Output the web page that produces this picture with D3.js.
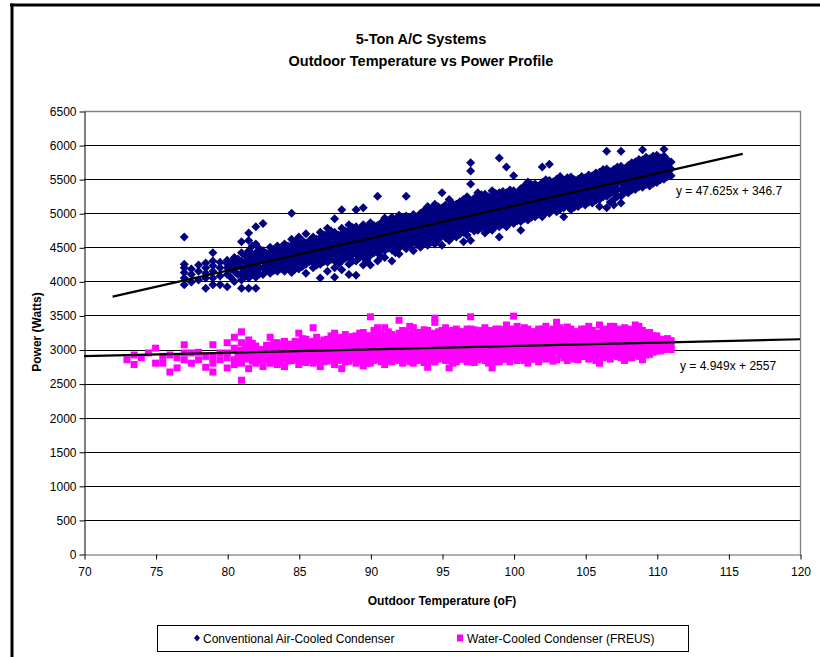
<!DOCTYPE html>
<html>
<head>
<meta charset="utf-8">
<script src="https://cdn.jsdelivr.net/npm/d3@7"></script>
<style>
  body { margin: 0; background: #fff; }
  svg { display: block; font-family: "Liberation Sans", Arial, sans-serif; }
</style>
</head>
<body>
<svg id="chart" width="820" height="657"></svg>
<script>
// Values: [temperature (oF), [watts, ...]]
const airCooled = [
  [77.0, [3950, 4050, 4130, 4200, 4250, 4650]],
  [77.5, [3990, 4100, 4180]],
  [78.0, [4020, 4150, 4240]],
  [78.5, [3900, 4050, 4120, 4200, 4270]],
  [79.0, [3950, 4050, 4150, 4230, 4300, 4420]],
  [79.5, [3950, 4080, 4200, 4280]],
  [80.0, [3920, 4100, 4200, 4260, 4310]],
  [80.5, [4000, 4150, 4250, 4300, 4350]],
  [81.0, [3900, 4020, 4120, 4200, 4300, 4420, 4580]],
  [81.5, [3900, 4050, 4150, 4250, 4350, 4450, 4600, 4710]],
  [82.0, [3900, 4060, 4150, 4250, 4330, 4420, 4550, 4800]],
  [82.5, [4100, 4200, 4300, 4380, 4450, 4850]],
  [83.0, [4120, 4200, 4280, 4350, 4420, 4500]],
  [83.5, [4150, 4230, 4300, 4380, 4450, 4520]],
  [84.0, [4150, 4250, 4320, 4400, 4480, 4550]],
  [84.5, [4130, 4220, 4300, 4380, 4450, 4530, 4620, 5000]],
  [85.0, [4180, 4260, 4330, 4400, 4480, 4560, 4650]],
  [85.5, [4120, 4250, 4330, 4400, 4480, 4560, 4700]],
  [86.0, [4200, 4280, 4350, 4420, 4500, 4580, 4650]],
  [86.5, [4050, 4250, 4320, 4400, 4480, 4560, 4640, 4720]],
  [87.0, [4150, 4280, 4360, 4440, 4520, 4600, 4700, 4780]],
  [87.5, [4060, 4200, 4300, 4400, 4480, 4560, 4640, 4720, 4920]],
  [88.0, [4170, 4300, 4380, 4460, 4540, 4620, 4700, 4780, 5050]],
  [88.5, [4100, 4250, 4350, 4430, 4510, 4590, 4670, 4750, 4830]],
  [89.0, [4090, 4300, 4400, 4480, 4560, 4640, 4720, 4800, 5050]],
  [89.5, [4240, 4350, 4430, 4510, 4590, 4670, 4750, 4830, 5080]],
  [90.0, [4240, 4380, 4460, 4540, 4620, 4700, 4780, 4860]],
  [90.5, [4300, 4420, 4500, 4580, 4660, 4740, 4820, 5250]],
  [91.0, [4350, 4450, 4530, 4610, 4690, 4770, 4850, 4930]],
  [91.5, [4300, 4460, 4540, 4620, 4700, 4780, 4860, 4940]],
  [92.0, [4400, 4490, 4570, 4650, 4730, 4810, 4890, 4970]],
  [92.5, [4480, 4560, 4640, 4720, 4800, 4880, 4960, 5250]],
  [93.0, [4450, 4580, 4660, 4740, 4820, 4900, 4980]],
  [93.5, [4500, 4600, 4680, 4760, 4840, 4920, 5000]],
  [94.0, [4530, 4620, 4700, 4780, 4860, 4940, 5020, 5100]],
  [94.5, [4550, 4650, 4730, 4810, 4890, 4970, 5050, 5130]],
  [95.0, [4530, 4680, 4760, 4840, 4920, 5000, 5080, 5300]],
  [95.5, [4600, 4700, 4780, 4860, 4940, 5020, 5100, 5200]],
  [96.0, [4650, 4730, 4810, 4890, 4970, 5050, 5130]],
  [96.5, [4580, 4720, 4800, 4880, 4960, 5040, 5120, 5200]],
  [97.0, [4600, 4780, 4860, 4940, 5020, 5100, 5180, 5430, 5620, 5740]],
  [97.5, [4750, 4830, 4910, 4990, 5070, 5150, 5230, 5300]],
  [98.0, [4710, 4800, 4880, 4960, 5040, 5120, 5200, 5280]],
  [98.5, [4750, 4850, 4930, 5010, 5090, 5170, 5250, 5330]],
  [99.0, [4650, 4800, 4880, 4960, 5040, 5120, 5200, 5300, 5810]],
  [99.5, [4800, 4900, 4980, 5060, 5140, 5220, 5300, 5680]],
  [100.0, [4850, 4930, 5010, 5090, 5170, 5250, 5330, 5550]],
  [100.5, [4750, 4880, 4960, 5040, 5120, 5200, 5280, 5360]],
  [101.0, [4900, 4980, 5060, 5140, 5220, 5300, 5380, 5460]],
  [101.5, [4950, 5030, 5110, 5190, 5270, 5350, 5430]],
  [102.0, [4950, 5050, 5130, 5210, 5290, 5370, 5450, 5680]],
  [102.5, [5000, 5080, 5160, 5240, 5320, 5400, 5480, 5720]],
  [103.0, [5020, 5100, 5180, 5260, 5340, 5420, 5500]],
  [103.5, [4950, 5080, 5160, 5240, 5320, 5400, 5480]],
  [104.0, [5050, 5130, 5210, 5290, 5370, 5450, 5530]],
  [104.5, [5100, 5180, 5260, 5340, 5420, 5500]],
  [105.0, [5120, 5200, 5280, 5360, 5440, 5520]],
  [105.5, [5150, 5230, 5310, 5390, 5470, 5550]],
  [106.0, [5100, 5200, 5280, 5360, 5440, 5520, 5600]],
  [106.5, [5080, 5250, 5330, 5410, 5490, 5570, 5650, 5910]],
  [107.0, [5120, 5200, 5300, 5400, 5480, 5560, 5640]],
  [107.5, [5150, 5250, 5350, 5450, 5530, 5610, 5690, 5910]],
  [108.0, [5300, 5380, 5460, 5540, 5620, 5700]],
  [108.5, [5350, 5430, 5510, 5590, 5670, 5750]],
  [109.0, [5380, 5460, 5540, 5620, 5700, 5780, 5930]],
  [109.5, [5400, 5480, 5560, 5640, 5720, 5800]],
  [110.0, [5450, 5530, 5610, 5690, 5770, 5850]],
  [110.5, [5500, 5580, 5660, 5740, 5840, 5940]],
  [111.0, [5550, 5650, 5750]]
]

// readings in between the columns above, where the cloud is dense
const airCooledMid = [
  [80.25, [4060, 4180, 4280]],
  [80.75, [4100, 4230, 4330]],
  [81.25, [4080, 4180, 4280, 4380]],
  [81.75, [4100, 4200, 4300, 4400, 4520]],
  [82.25, [4110, 4200, 4290, 4380, 4480]],
  [82.75, [4160, 4250, 4340, 4410]],
  [83.25, [4160, 4240, 4320, 4390, 4460]],
  [83.75, [4190, 4270, 4340, 4420, 4490]],
  [84.25, [4200, 4290, 4360, 4440, 4520]],
  [84.75, [4180, 4260, 4340, 4420, 4490, 4580]],
  [85.25, [4220, 4300, 4370, 4440, 4520, 4600]],
  [85.75, [4290, 4370, 4440, 4520, 4600]],
  [86.25, [4240, 4320, 4390, 4460, 4540, 4620]],
  [86.75, [4290, 4360, 4440, 4520, 4600, 4680]],
  [87.25, [4320, 4400, 4480, 4560, 4650, 4740]],
  [87.75, [4250, 4350, 4440, 4520, 4600, 4680]],
  [88.25, [4340, 4420, 4500, 4580, 4660, 4740]],
  [88.75, [4300, 4390, 4470, 4550, 4630, 4710, 4790]],
  [89.25, [4350, 4440, 4520, 4600, 4680, 4760]],
  [89.75, [4310, 4390, 4470, 4550, 4630, 4710, 4790]],
  [90.25, [4420, 4500, 4580, 4660, 4740, 4820]],
  [90.75, [4360, 4460, 4540, 4620, 4700, 4780, 4860]],
  [91.25, [4490, 4570, 4650, 4730, 4810, 4890]],
  [91.75, [4420, 4500, 4580, 4660, 4740, 4820, 4900]],
  [92.25, [4530, 4610, 4690, 4770, 4850, 4930]],
  [92.75, [4520, 4600, 4680, 4760, 4840, 4920]],
  [93.25, [4540, 4620, 4700, 4780, 4860, 4940]],
  [93.75, [4560, 4640, 4720, 4800, 4880, 4960, 5040]],
  [94.25, [4580, 4660, 4740, 4820, 4900, 4980, 5060]],
  [94.75, [4610, 4690, 4770, 4850, 4930, 5010, 5090]],
  [95.25, [4640, 4720, 4800, 4880, 4960, 5040, 5120]],
  [95.75, [4660, 4740, 4820, 4900, 4980, 5060, 5140]],
  [96.25, [4690, 4770, 4850, 4930, 5010, 5090, 5170]],
  [96.75, [4680, 4760, 4840, 4920, 5000, 5080, 5160, 5240]],
  [97.25, [4740, 4820, 4900, 4980, 5060, 5140, 5220]],
  [97.75, [4790, 4870, 4950, 5030, 5110, 5190, 5270]],
  [98.25, [4760, 4840, 4920, 5000, 5080, 5160, 5240]],
  [98.75, [4810, 4890, 4970, 5050, 5130, 5210, 5290]],
  [99.25, [4840, 4920, 5000, 5080, 5160, 5240, 5320]],
  [99.75, [4860, 4940, 5020, 5100, 5180, 5260, 5340]],
  [100.25, [4890, 4970, 5050, 5130, 5210, 5290]],
  [100.75, [4920, 5000, 5080, 5160, 5240, 5320, 5400]],
  [101.25, [4940, 5020, 5100, 5180, 5260, 5340, 5420]],
  [101.75, [4990, 5070, 5150, 5230, 5310, 5390]],
  [102.25, [5010, 5090, 5170, 5250, 5330, 5410, 5490]],
  [102.75, [5060, 5140, 5220, 5300, 5380, 5460]],
  [103.25, [5060, 5140, 5220, 5300, 5380, 5460, 5540]],
  [103.75, [5120, 5200, 5280, 5360, 5440, 5520]],
  [104.25, [5090, 5170, 5250, 5330, 5410, 5490]],
  [104.75, [5140, 5220, 5300, 5380, 5460, 5540]],
  [105.25, [5160, 5240, 5320, 5400, 5480, 5560]],
  [105.75, [5190, 5270, 5350, 5430, 5510, 5590]],
  [106.25, [5240, 5320, 5400, 5480, 5560, 5640]],
  [106.75, [5160, 5290, 5370, 5450, 5530, 5610]],
  [107.25, [5250, 5350, 5440, 5520, 5600, 5680]],
  [107.75, [5300, 5400, 5490, 5570, 5650]],
  [108.25, [5340, 5420, 5500, 5580, 5660, 5740]],
  [108.75, [5390, 5470, 5550, 5630, 5710, 5790]],
  [109.25, [5420, 5500, 5580, 5660, 5740, 5820]],
  [109.75, [5440, 5520, 5600, 5680, 5760, 5840]],
  [110.25, [5490, 5570, 5650, 5730, 5810]],
  [110.75, [5540, 5620, 5700, 5780]]
]

const waterCooled = [
  [73.0, [2850]],
  [73.5, [2780, 2920]],
  [74.0, [2880]],
  [74.5, [2950]],
  [75.0, [2800, 3020]],
  [75.5, [2800, 2900]],
  [76.0, [2670, 2920]],
  [76.5, [2730, 2880]],
  [77.0, [2850, 2950, 3070]],
  [77.5, [2800, 2950]],
  [78.0, [2850, 2960]],
  [78.5, [2740, 2900]],
  [79.0, [2670, 2800, 2890, 3070]],
  [79.5, [2850, 2950]],
  [80.0, [2730, 2880, 2950, 3100]],
  [80.5, [2780, 2850, 3020, 3180]],
  [81.0, [2550, 2800, 2900, 2980, 3100, 3260]],
  [81.5, [2720, 2870, 2950, 3050, 3140]],
  [82.0, [2800, 2880, 2950, 3050]],
  [82.5, [2750, 2920, 3000]],
  [83.0, [2800, 2880, 2970, 3050, 3180]],
  [83.5, [2780, 2850, 2920, 3000, 3100]],
  [84.0, [2750, 2870, 2950, 3030, 3120]],
  [84.5, [2840, 2920, 3000, 3080]],
  [85.0, [2780, 2860, 2940, 3020, 3100, 3240]],
  [85.5, [2810, 2890, 2970, 3050, 3150]],
  [86.0, [2800, 2880, 2960, 3040, 3120, 3320]],
  [86.5, [2750, 2860, 2940, 3020, 3100]],
  [87.0, [2830, 2910, 2990, 3070, 3150]],
  [87.5, [2780, 2880, 2960, 3040, 3120, 3240]],
  [88.0, [2720, 2860, 2940, 3020, 3100, 3180]],
  [88.5, [2830, 2910, 2990, 3070, 3150]],
  [89.0, [2800, 2880, 2960, 3040, 3120, 3200]],
  [89.5, [2760, 2840, 2920, 3000, 3080, 3160, 3250]],
  [90.0, [2800, 2880, 2960, 3040, 3120, 3200, 3480]],
  [90.5, [2860, 2940, 3020, 3100, 3180, 3320]],
  [91.0, [2780, 2880, 2960, 3040, 3120, 3200, 3320]],
  [91.5, [2820, 2900, 2980, 3060, 3140, 3220]],
  [92.0, [2840, 2920, 3000, 3080, 3160, 3240, 3430]],
  [92.5, [2860, 2940, 3020, 3100, 3180, 3260]],
  [93.0, [2800, 2880, 2960, 3040, 3120, 3200, 3320]],
  [93.5, [2850, 2930, 3010, 3090, 3170, 3250]],
  [94.0, [2740, 2880, 2960, 3040, 3120, 3200, 3280]],
  [94.5, [2820, 2900, 2980, 3060, 3140, 3220, 3400, 3460]],
  [95.0, [2880, 2960, 3040, 3120, 3200, 3280]],
  [95.5, [2730, 2840, 2920, 3000, 3080, 3160, 3240]],
  [96.0, [2820, 2900, 2980, 3060, 3140, 3220, 3300]],
  [96.5, [2860, 2940, 3020, 3100, 3180, 3260]],
  [97.0, [2820, 2900, 2980, 3060, 3140, 3220, 3300, 3480]],
  [97.5, [2850, 2930, 3010, 3090, 3170, 3250]],
  [98.0, [2840, 2920, 3000, 3080, 3160, 3240, 3320]],
  [98.5, [2730, 2860, 2940, 3020, 3100, 3180, 3260]],
  [99.0, [2820, 2900, 2980, 3060, 3140, 3220, 3300]],
  [99.5, [2860, 2940, 3020, 3100, 3180, 3260, 3360]],
  [100.0, [2900, 2980, 3060, 3140, 3220, 3300, 3490]],
  [100.5, [2880, 2960, 3040, 3120, 3200, 3280]],
  [101.0, [2800, 2900, 2980, 3060, 3140, 3220, 3300]],
  [101.5, [2860, 2940, 3020, 3100, 3180, 3260]],
  [102.0, [2900, 2980, 3060, 3140, 3220, 3300]],
  [102.5, [2870, 2940, 3020, 3100, 3180, 3260]],
  [103.0, [2850, 2980, 3060, 3140, 3220, 3300, 3400]],
  [103.5, [2880, 2960, 3040, 3120, 3200, 3280]],
  [104.0, [2900, 2980, 3060, 3140, 3220, 3300]],
  [104.5, [2850, 2940, 3020, 3100, 3180, 3260]],
  [105.0, [2900, 2980, 3060, 3140, 3220, 3300]],
  [105.5, [2880, 2960, 3040, 3120, 3200, 3280]],
  [106.0, [2800, 2920, 3000, 3080, 3160, 3240, 3360]],
  [106.5, [2900, 2980, 3060, 3140, 3220, 3300]],
  [107.0, [2940, 3020, 3100, 3180, 3260, 3340]],
  [107.5, [2880, 2960, 3040, 3120, 3200, 3280]],
  [108.0, [2900, 2980, 3060, 3140, 3220, 3300]],
  [108.5, [2940, 3020, 3100, 3180, 3260, 3360]],
  [109.0, [2850, 2960, 3040, 3120, 3200, 3280]],
  [109.5, [2930, 3010, 3090, 3170, 3250]],
  [110.0, [2980, 3040, 3120, 3200]],
  [110.5, [3000, 3080, 3150]],
  [111.0, [3000, 3060, 3130]]
]

const waterCooledMid = [
  [80.75, [2900, 2990]],
  [81.25, [2860, 2940, 3040]],
  [81.75, [2830, 2910, 3000, 3090]],
  [82.25, [2840, 2920, 3000]],
  [82.75, [2850, 2960, 3060]],
  [83.25, [2840, 2920, 3010, 3100]],
  [83.75, [2820, 2890, 2960, 3050]],
  [84.25, [2830, 2910, 2990, 3070]],
  [84.75, [2880, 2960, 3040, 3120]],
  [85.25, [2820, 2900, 2980, 3060, 3160]],
  [85.75, [2850, 2930, 3010, 3100]],
  [86.25, [2840, 2920, 3000, 3080, 3180]],
  [86.75, [2820, 2900, 2980, 3060, 3140]],
  [87.25, [2870, 2950, 3030, 3110, 3200]],
  [87.75, [2840, 2920, 3000, 3080, 3160]],
  [88.25, [2820, 2900, 2980, 3060, 3140, 3220]],
  [88.75, [2870, 2950, 3030, 3110, 3190]],
  [89.25, [2840, 2920, 3000, 3080, 3160, 3240]],
  [89.75, [2800, 2880, 2960, 3040, 3120, 3200]],
  [90.25, [2840, 2920, 3000, 3080, 3160, 3280]],
  [90.75, [2820, 2900, 2980, 3060, 3140, 3220]],
  [91.25, [2840, 2920, 3000, 3080, 3160, 3260]],
  [91.75, [2860, 2940, 3020, 3100, 3180]],
  [92.25, [2800, 2880, 2960, 3040, 3120, 3200, 3280]],
  [92.75, [2820, 2900, 2980, 3060, 3140, 3220, 3340]],
  [93.25, [2840, 2920, 3000, 3080, 3160, 3240]],
  [93.75, [2810, 2890, 2970, 3050, 3130, 3210, 3290]],
  [94.25, [2840, 2920, 3000, 3080, 3160, 3240]],
  [94.75, [2860, 2940, 3020, 3100, 3180, 3260]],
  [95.25, [2840, 2920, 3000, 3080, 3160, 3240, 3320]],
  [95.75, [2800, 2880, 2960, 3040, 3120, 3200, 3280]],
  [96.25, [2860, 2940, 3020, 3100, 3180, 3260]],
  [96.75, [2820, 2900, 2980, 3060, 3140, 3220, 3300]],
  [97.25, [2810, 2890, 2970, 3050, 3130, 3210, 3290]],
  [97.75, [2880, 2960, 3040, 3120, 3200, 3280]],
  [98.25, [2800, 2880, 2960, 3040, 3120, 3200, 3280]],
  [98.75, [2820, 2900, 2980, 3060, 3140, 3220, 3300]],
  [99.25, [2860, 2940, 3020, 3100, 3180, 3260]],
  [99.75, [2820, 2900, 2980, 3060, 3140, 3220, 3300]],
  [100.25, [2840, 2920, 3000, 3080, 3160, 3240, 3340]],
  [100.75, [2840, 2920, 3000, 3080, 3160, 3240, 3320]],
  [101.25, [2860, 2940, 3020, 3100, 3180, 3260]],
  [101.75, [2820, 2900, 2980, 3060, 3140, 3220, 3300]],
  [102.25, [2860, 2940, 3020, 3100, 3180, 3260, 3340]],
  [102.75, [2830, 2900, 2980, 3060, 3140, 3220, 3300]],
  [103.25, [2920, 3000, 3080, 3160, 3240, 3320]],
  [103.75, [2840, 2920, 3000, 3080, 3160, 3240, 3330]],
  [104.25, [2860, 2940, 3020, 3100, 3180, 3260]],
  [104.75, [2900, 2980, 3060, 3140, 3220, 3300]],
  [105.25, [2860, 2940, 3020, 3100, 3180, 3260, 3340]],
  [105.75, [2840, 2920, 3000, 3080, 3160, 3240]],
  [106.25, [2880, 2960, 3040, 3120, 3200, 3280]],
  [106.75, [2860, 2940, 3020, 3100, 3180, 3260, 3340]],
  [107.25, [2900, 2980, 3060, 3140, 3220, 3300]],
  [107.75, [2840, 2920, 3000, 3080, 3160, 3240, 3320]],
  [108.25, [2880, 2960, 3040, 3120, 3200, 3280]],
  [108.75, [2900, 2980, 3060, 3140, 3220, 3340]],
  [109.25, [2920, 3000, 3080, 3160, 3240]],
  [109.75, [2960, 3040, 3120, 3200]],
  [110.25, [2980, 3060, 3140]],
  [110.75, [3020, 3090, 3160]]
]

// Linear trendlines as printed on the chart: [slope, intercept, fromX, toX]
const airTrend = [47.625, 346.7, 72, 116]
const waterTrend = [4.949, 2557, 70, 120]
const trendLabels = ['y = 47.625x + 346.7', 'y = 4.949x + 2557']

const seriesNames = ['Conventional Air-Cooled Condenser', 'Water-Cooled Condenser (FREUS)']
const titleLines = ['5-Ton A/C Systems', 'Outdoor Temperature vs Power Profile']
const xTicks = [70, 75, 80, 85, 90, 95, 100, 105, 110, 115, 120]
const yTicks = [0, 500, 1000, 1500, 2000, 2500, 3000, 3500, 4000, 4500, 5000, 5500, 6000, 6500]

const navy = '#000080'
const magenta = '#ff00ff'

const svg = d3.select('#chart')

// Outer frame (thick black edges at top and left)
svg.append('line').attr('x1', 10).attr('x2', 820).attr('y1', 5).attr('y2', 5)
  .attr('stroke', '#000').attr('stroke-width', 3)
svg.append('line').attr('x1', 12).attr('x2', 12).attr('y1', 3.5).attr('y2', 657)
  .attr('stroke', '#000').attr('stroke-width', 3)

// Title
svg.append('text')
  .attr('x', 421).attr('y', 44)
  .attr('text-anchor', 'middle')
  .style('font-size', '14.5px').style('font-weight', 'bold')
  .text(titleLines[0])
svg.append('text')
  .attr('x', 421).attr('y', 66)
  .attr('text-anchor', 'middle')
  .style('font-size', '14.5px').style('font-weight', 'bold')
  .text(titleLines[1])

const x = d3.scaleLinear().domain([70, 120]).range([84, 800])
const y = d3.scaleLinear().domain([0, 6500]).range([554, 111])

// Gridlines
svg.append('g')
  .selectAll('line')
  .data(yTicks.filter(t => t > 0 && t < 6500))
  .join('line')
  .attr('x1', 84).attr('x2', 800)
  .attr('y1', d => Math.round(y(d)) + 0.5).attr('y2', d => Math.round(y(d)) + 0.5)
  .attr('stroke', '#000').attr('stroke-width', 1)

// Plot area border top + right
svg.append('path')
  .attr('d', `M84,${Math.round(y(6500)) + 0.5} H${Math.round(x(120)) + 0.5} V${Math.round(y(0)) + 0.5}`)
  .attr('fill', 'none').attr('stroke', '#808080').attr('stroke-width', 1.3)

// Axes
const yAxis = svg.append('g')
  .attr('transform', `translate(${Math.round(x(70)) + 0.5},0.5)`)
  .call(d3.axisLeft(y).tickValues(yTicks).tickFormat(d3.format('d'))
    .tickSize(5).tickPadding(3).tickSizeOuter(0))
const xAxis = svg.append('g')
  .attr('transform', `translate(0.5,${Math.round(y(0)) + 0.5})`)
  .call(d3.axisBottom(x).tickValues(xTicks).tickFormat(d3.format('d'))
    .tickSize(5).tickPadding(8).tickSizeOuter(0))

;[yAxis, xAxis].forEach(a => {
  a.selectAll('text').style('font-size', '12px').attr('fill', '#000')
    .style('font-family', '"Liberation Sans", Arial, sans-serif')
  a.selectAll('line').attr('stroke', '#000')
  a.select('.domain').attr('stroke', '#000')
})
xAxis.select('.domain').attr('stroke', '#606060')

// Axis titles
svg.append('text')
  .attr('x', 442).attr('y', 605)
  .attr('text-anchor', 'middle')
  .style('font-size', '12px').style('font-weight', 'bold')
  .text('Outdoor Temperature (oF)')
svg.append('text')
  .attr('transform', `translate(41,${332}) rotate(-90)`)
  .attr('text-anchor', 'middle')
  .style('font-size', '12px').style('font-weight', 'bold')
  .text('Power (Watts)')

// Flatten columns into points
const toPoints = cols => cols.flatMap(([t, ws]) => ws.map(w => ({ t, w })))

const diamond = 'M0,-4.5L4.5,0L0,4.5L-4.5,0Z'

svg.append('g')
  .selectAll('path')
  .data(toPoints(airCooled).concat(toPoints(airCooledMid)))
  .join('path')
  .attr('d', diamond)
  .attr('transform', d => `translate(${x(d.t)},${y(d.w)})`)
  .attr('fill', navy)

svg.append('g')
  .selectAll('rect')
  .data(toPoints(waterCooled).concat(toPoints(waterCooledMid)))
  .join('rect')
  .attr('x', d => x(d.t) - 3.5)
  .attr('y', d => y(d.w) - 3.5)
  .attr('width', 7).attr('height', 7)
  .attr('fill', magenta)

// Trendlines
;[airTrend, waterTrend].forEach(([m, b, x0, x1]) => {
  svg.append('line')
    .attr('x1', x(x0)).attr('y1', y(m * x0 + b))
    .attr('x2', x(x1)).attr('y2', y(m * x1 + b))
    .attr('stroke', '#000').attr('stroke-width', 2.2)
})

// Trendline equations
svg.append('text').attr('x', 676).attr('y', 195)
  .style('font-size', '12px').text(trendLabels[0])
svg.append('text').attr('x', 680).attr('y', 370)
  .style('font-size', '12px').text(trendLabels[1])

// Legend
const legend = svg.append('g')
legend.append('rect')
  .attr('x', 157.5).attr('y', 625.5).attr('width', 531).attr('height', 26)
  .attr('fill', '#fff').attr('stroke', '#000')
legend.append('path')
  .attr('d', 'M0,-3.5L3,0L0,3.5L-3,0Z')
  .attr('transform', 'translate(197,638)')
  .attr('fill', navy)
legend.append('text').attr('x', 203).attr('y', 642.5)
  .style('font-size', '12px').text(seriesNames[0])
legend.append('rect')
  .attr('x', 457).attr('y', 634.5).attr('width', 6).attr('height', 7)
  .attr('fill', magenta)
legend.append('text').attr('x', 467).attr('y', 642.5)
  .style('font-size', '12px').text(seriesNames[1])
</script>
</body>
</html>
